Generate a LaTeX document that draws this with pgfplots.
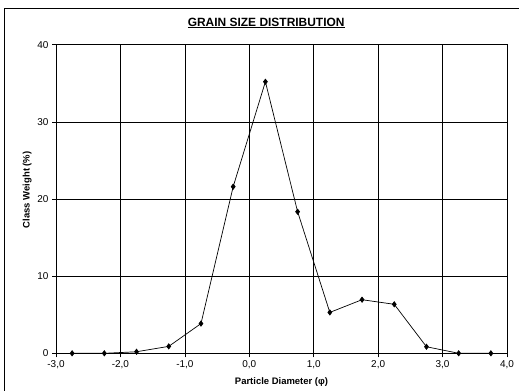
\documentclass[border=0pt]{standalone}
\usepackage{pgfplots}
\pgfplotsset{compat=1.18}
\usepackage{fontspec}
\setmainfont{Liberation Sans}
\begin{document}
\begin{tikzpicture}[x=1bp,y=1bp]
\useasboundingbox (0,0) rectangle (519,390);
\draw[line width=0.9bp] (4,-10) rectangle (530,381.7);
\begin{axis}[
  at={(56bp,36.7bp)}, anchor=south west,
  scale only axis, width=451bp, height=308.6bp,
  xmin=-3, xmax=4, ymin=0, ymax=40,
  xtick distance=1, ytick distance=10,
  grid=major, major grid style={black, line width=0.6bp},
  axis line style={black, line width=0.7bp},
  tick pos=left, tick align=outside, major tick length=4bp,
  tick style={black, line width=0.6bp},
  /pgf/number format/assume math mode=true,
  ticklabel style={font=\fontsize{10}{12}\selectfont},
  xticklabel style={/pgf/number format/.cd, fixed, fixed zerofill, precision=1, use comma},
  title={\underline{GRAIN SIZE DISTRIBUTION}},
  title style={font=\bfseries\fontsize{12}{14}\selectfont, at={(axis description cs:0.466,1.041)}, anchor=base},
  xlabel={Particle Diameter (φ)},
  xlabel style={font=\bfseries\fontsize{9.5}{11}\selectfont, at={(axis description cs:0.5,-0.093)}, anchor=center},
  ylabel={Class Weight (\%)},
  ylabel style={font=\bfseries\fontsize{9.5}{11}\selectfont, at={(axis description cs:-0.064,0.53)}, anchor=center, rotate=0},
]
\addplot[black, line width=0.7bp, mark=diamond*, mark size=2.6bp] coordinates {
(-2.75,0) (-2.25,0) (-1.75,0.2) (-1.25,0.9) (-0.75,3.85) (-0.25,21.6)
(0.25,35.2) (0.75,18.35) (1.25,5.3) (1.75,6.95) (2.25,6.35) (2.75,0.85)
(3.25,0) (3.75,0)
};
\end{axis}
\end{tikzpicture}
\end{document}
